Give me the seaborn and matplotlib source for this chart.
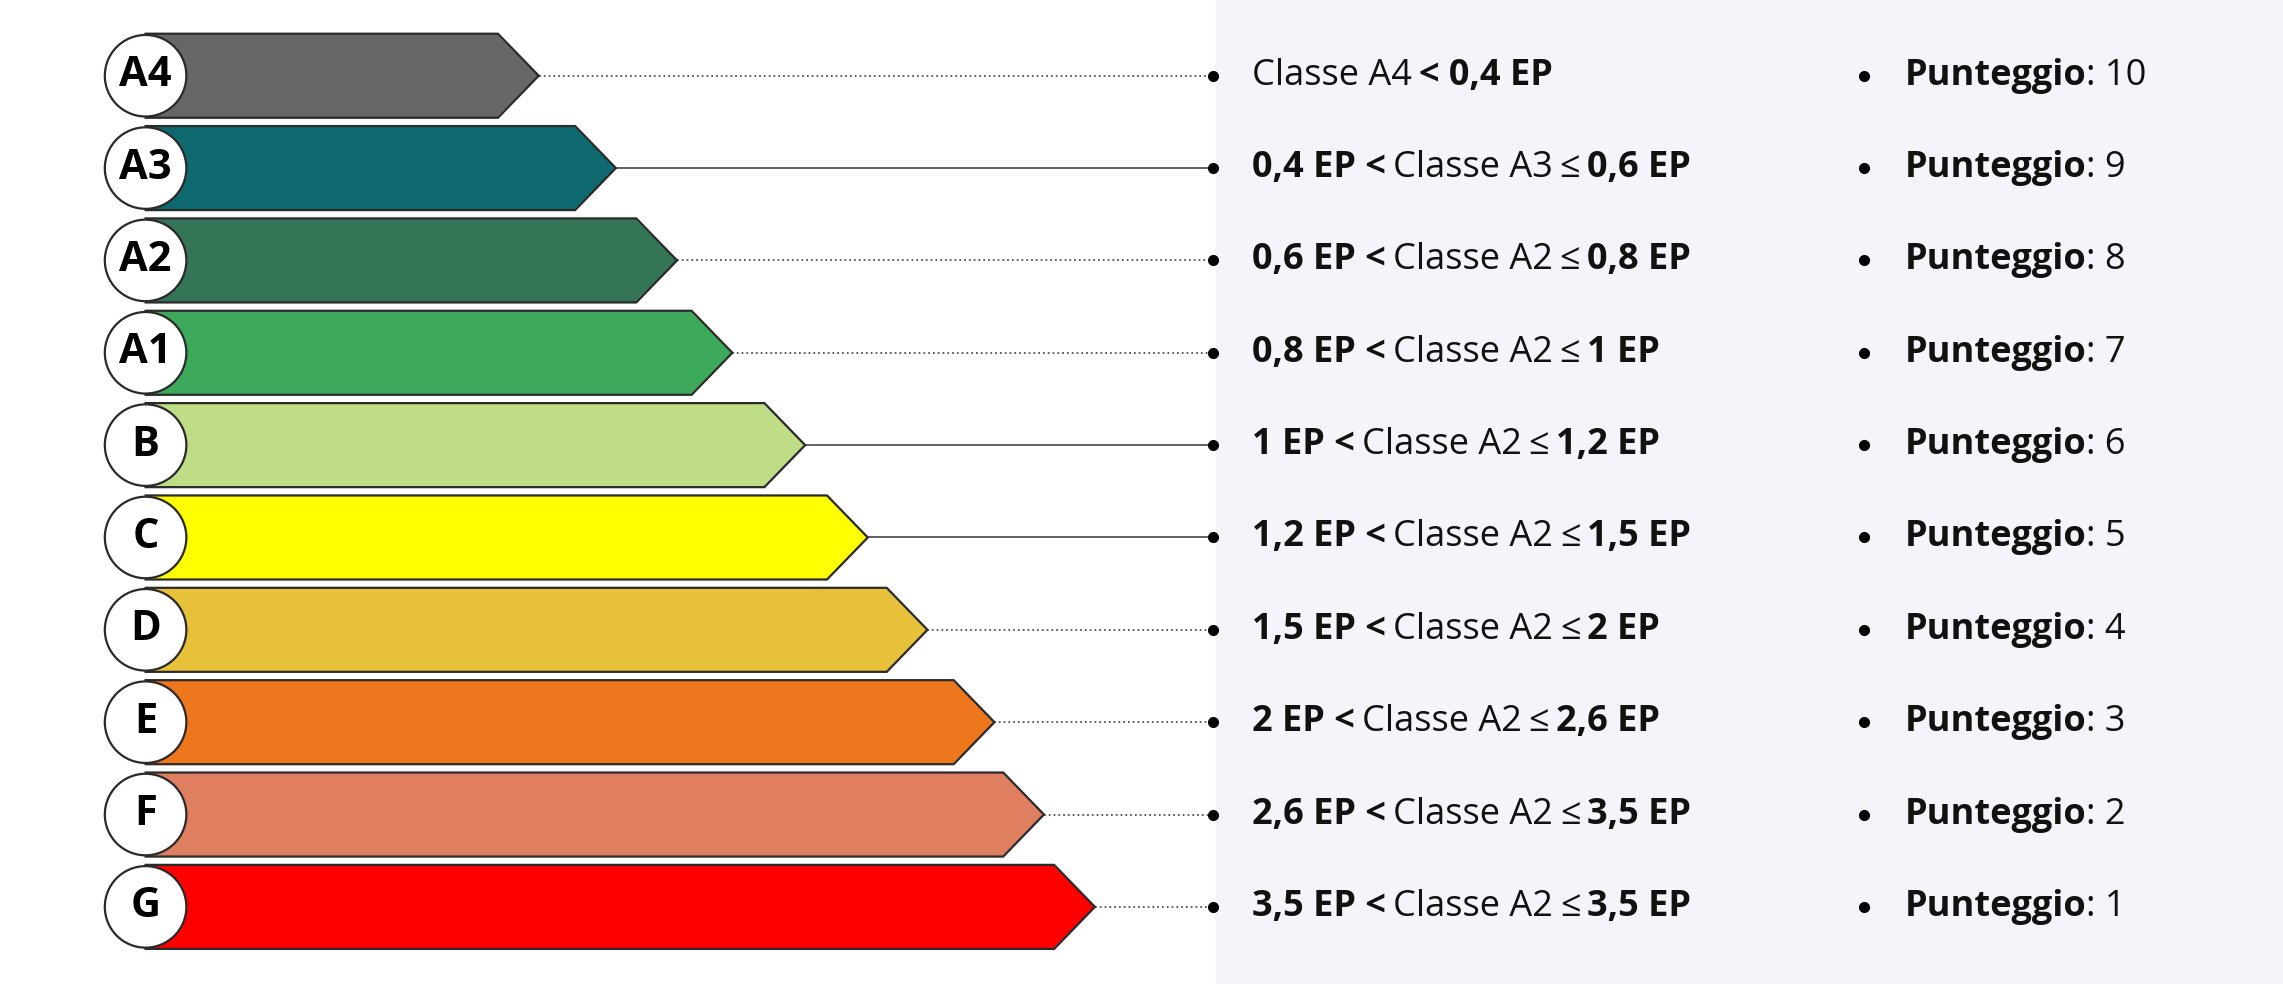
import numpy as np
import seaborn as sns
import matplotlib.pyplot as plt
from matplotlib.patches import Polygon, Ellipse

classes = ["A4", "A3", "A2", "A1", "B", "C", "D", "E", "F", "G"]
colors = ["#676767", "#0e6a6e", "#347558", "#3caa5a", "#bfdc86",
          "#ffff00", "#e8c13a", "#ee761c", "#e07f5f", "#ff0000"]
# arrow tip position (px on the reference, measured from the circle centre)
tips = [270, 323, 365, 403, 453, 496, 537, 583, 617, 652]
line_styles = [":", "-", ":", ":", "-", "-", ":", ":", ":", ":"]
# range text pieces: (text, bold)
ranges = [
    [("Classe A4", False), ("< 0,4 EP", True)],
    [("0,4 EP <", True), ("Classe A3", False), ("≤", False), ("0,6 EP", True)],
    [("0,6 EP <", True), ("Classe A2", False), ("≤", False), ("0,8 EP", True)],
    [("0,8 EP <", True), ("Classe A2", False), ("≤", False), ("1 EP", True)],
    [("1 EP <", True), ("Classe A2", False), ("≤", False), ("1,2 EP", True)],
    [("1,2 EP <", True), ("Classe A2", False), ("≤", False), ("1,5 EP", True)],
    [("1,5 EP <", True), ("Classe A2", False), ("≤", False), ("2 EP", True)],
    [("2 EP <", True), ("Classe A2", False), ("≤", False), ("2,6 EP", True)],
    [("2,6 EP <", True), ("Classe A2", False), ("≤", False), ("3,5 EP", True)],
    [("3,5 EP <", True), ("Classe A2", False), ("≤", False), ("3,5 EP", True)],
]
scores = [10, 9, 8, 7, 6, 5, 4, 3, 2, 1]

tip_w = 28
bar_h = 0.91
font = ["Open Sans", "DejaVu Sans"]
fs = 26

fig = plt.figure(figsize=(22.83, 9.84), dpi=100)
ax = fig.add_axes([0, 0, 1, 1])

body = [t - tip_w for t in tips]
sns.barplot(x=body, y=classes, hue=classes, palette=colors, orient="h",
            width=bar_h, linewidth=0, saturation=1, legend=False, ax=ax, zorder=2)

ax.set_xlim(-100, 1468)
ax.set_ylim(9.835, -0.82)
ax.axis("off")
ax.axvspan(735, 1468, color="#f4f5fa", zorder=0)

px_per_x = 2283 / 1568
px_per_y = 984 / (9.835 + 0.82)
r = 28 * px_per_x

for i, (b, c) in enumerate(zip(body, colors)):
    y0, y1 = i - bar_h / 2, i + bar_h / 2
    ax.add_patch(Polygon([(b - 1, y0), (b + tip_w, i), (b - 1, y1)],
                         closed=True, fc=c, ec="none", zorder=2))
    ax.add_patch(Polygon([(0, y0), (b, y0), (b + tip_w, i), (b, y1), (0, y1)],
                         closed=True, fc="none", ec="#2a2a2a", lw=1.6, zorder=3))
    ax.add_patch(Ellipse((0, i), 2 * r / px_per_x, 2 * r / px_per_y,
                         fc="white", ec="#2a2a2a", lw=1.6, zorder=4))
    ax.text(0, i, classes[i], ha="center", va="center", fontsize=30,
            fontweight="bold", family=font, zorder=5)
    ax.plot([b + tip_w, 733], [i, i], ls=line_styles[i], color="#555555",
            lw=1.3, zorder=1)
    ax.plot([733], [i], "o", color="black", ms=7, zorder=5)

for i, pieces in enumerate(ranges):
    prev = None
    for txt, bold in pieces:
        w = "bold" if bold else "normal"
        if prev is None:
            prev = ax.text(760, i, txt, ha="left", va="center", fontsize=fs,
                           fontweight=w, family=font, color="#111111")
        else:
            prev = ax.annotate(txt, xy=(1, 0.5), xycoords=prev, xytext=(5, 0),
                               textcoords="offset points", ha="left", va="center",
                               fontsize=fs, fontweight=w, family=font, color="#111111")
    ax.plot([1180], [i], "o", color="black", ms=7)
    t = ax.text(1208, i, "Punteggio", ha="left", va="center", fontsize=fs,
                fontweight="bold", family=font, color="#111111")
    ax.annotate(f": {scores[i]}", xy=(1, 0.5), xycoords=t, xytext=(0, 0),
                textcoords="offset points", ha="left", va="center", fontsize=fs,
                family=font, color="#111111")

fig.savefig("out.png", dpi=100)
